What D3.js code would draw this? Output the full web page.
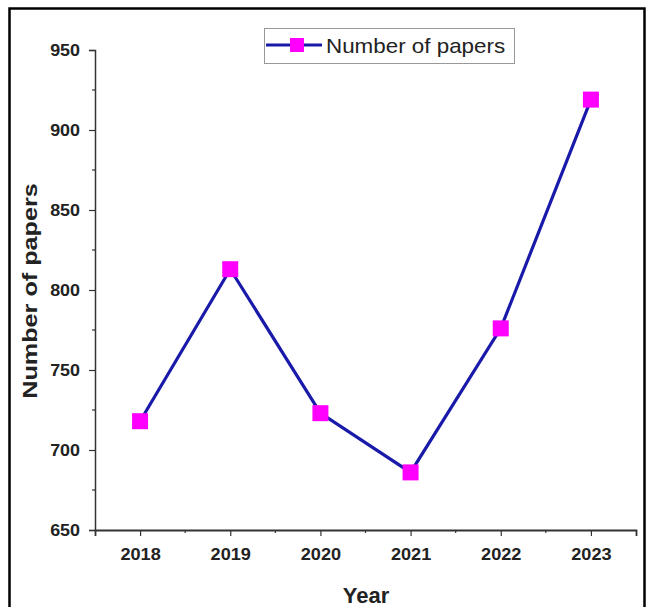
<!DOCTYPE html>
<html>
<head>
<meta charset="utf-8">
<script src="https://cdn.jsdelivr.net/npm/d3@7"></script>
<style>
  html, body { margin: 0; padding: 0; background: #fff; }
  svg { display: block; }
  text { font-family: Arial, "Liberation Sans", sans-serif; }
</style>
</head>
<body>
<svg id="chart" width="649" height="607"></svg>
<script>
// Publications per year
const years = [2018, 2019, 2020, 2021, 2022, 2023];
const papers = [718, 813, 723, 686, 776, 919];
const yTicks = [650, 700, 750, 800, 850, 900, 950];
const seriesName = "Number of papers";

const svg = d3.select("#chart");

// widen text horizontally while keeping its anchor point
function stretch(sel, k) {
  sel.each(function () {
    const t = d3.select(this);
    const x = +t.attr("x") || 0;
    t.attr("x", x / k).attr("transform", `scale(${k},1)`);
  });
}

// outer frame
svg.append("rect")
  .attr("x", 9.5).attr("y", 8.5)
  .attr("width", 635).attr("height", 620)
  .attr("fill", "none").attr("stroke", "#000").attr("stroke-width", 2.5);

const plot = { left: 95, right: 636, top: 50, bottom: 530 };

const x = d3.scaleLinear().domain([2017.5, 2023.5]).range([plot.left, plot.right]);
const y = d3.scaleLinear().domain([650, 950]).range([plot.bottom, plot.top]);

// y axis with major and minor ticks
const yAxis = d3.axisLeft(y).tickValues(yTicks).tickSize(6).tickPadding(9).tickFormat(d3.format("d"));
const gy = svg.append("g").attr("transform", `translate(${plot.left},0)`).call(yAxis);
gy.select(".domain").attr("stroke", "#333").attr("stroke-width", 1.5);
gy.selectAll(".tick line").attr("stroke", "#333").attr("stroke-width", 1.2);
gy.selectAll(".tick text").attr("font-size", 16).attr("font-weight", "bold").attr("fill", "#222")
  .attr("x", -15).attr("dy", "0.36em");
stretch(gy.selectAll(".tick text"), 1.12);
const yMinor = d3.range(675, 950, 50);
svg.append("g").selectAll("line").data(yMinor).join("line")
  .attr("x1", plot.left - 3).attr("x2", plot.left)
  .attr("y1", d => y(d)).attr("y2", d => y(d))
  .attr("stroke", "#333").attr("stroke-width", 1.2);

// x axis
const xAxis = d3.axisBottom(x).tickValues(years).tickSize(6).tickPadding(12).tickFormat(d3.format("d"));
const gx = svg.append("g").attr("transform", `translate(0,${plot.bottom})`).call(xAxis);
gx.select(".domain").attr("stroke", "#333").attr("stroke-width", 1.8);
gx.selectAll(".tick line").attr("stroke", "#333").attr("stroke-width", 1.2);
gx.selectAll(".tick text").attr("font-size", 16.5).attr("font-weight", "bold").attr("fill", "#222");
stretch(gx.selectAll(".tick text"), 1.1);
const xMinor = d3.range(2018.5, 2023.5, 1);
svg.append("g").selectAll("line").data(xMinor).join("line")
  .attr("x1", d => x(d)).attr("x2", d => x(d))
  .attr("y1", plot.bottom).attr("y2", plot.bottom + 3)
  .attr("stroke", "#333").attr("stroke-width", 1.2);

// axis titles
svg.append("text")
  .attr("x", 366).attr("y", 603)
  .attr("text-anchor", "middle").attr("font-size", 22).attr("font-weight", "bold").attr("fill", "#222")
  .text("Year");
svg.append("text")
  .attr("transform", `translate(37,291) rotate(-90) scale(1.2,1)`)
  .attr("text-anchor", "middle").attr("font-size", 21).attr("font-weight", "bold").attr("fill", "#222")
  .text("Number of papers");

// series line and markers
const data = years.map((yr, i) => ({ yr, v: papers[i] }));
const lineColor = "#1a1aaa";
const markerColor = "#ff00ff";
svg.append("path").datum(data)
  .attr("d", d3.line().x(d => x(d.yr)).y(d => y(d.v)))
  .attr("fill", "none").attr("stroke", lineColor).attr("stroke-width", 3.2);
const ms = 16;
svg.append("g").selectAll("rect").data(data).join("rect")
  .attr("x", d => x(d.yr) - ms / 2).attr("y", d => y(d.v) - ms / 2)
  .attr("width", ms).attr("height", ms)
  .attr("fill", markerColor);

// legend
const lg = svg.append("g");
lg.append("rect").attr("x", 264.5).attr("y", 28.5).attr("width", 250).attr("height", 35)
  .attr("fill", "#fff").attr("stroke", "#999").attr("stroke-width", 1);
lg.append("line").attr("x1", 266).attr("x2", 322).attr("y1", 45).attr("y2", 45)
  .attr("stroke", lineColor).attr("stroke-width", 3.2);
lg.append("rect").attr("x", 297 - 7).attr("y", 45 - 7).attr("width", 14).attr("height", 14)
  .attr("fill", markerColor);
const lt = lg.append("text").attr("x", 326).attr("y", 53)
  .attr("font-size", 20).attr("fill", "#222").text(seriesName);
stretch(lt, 1.12);
</script>
</body>
</html>
